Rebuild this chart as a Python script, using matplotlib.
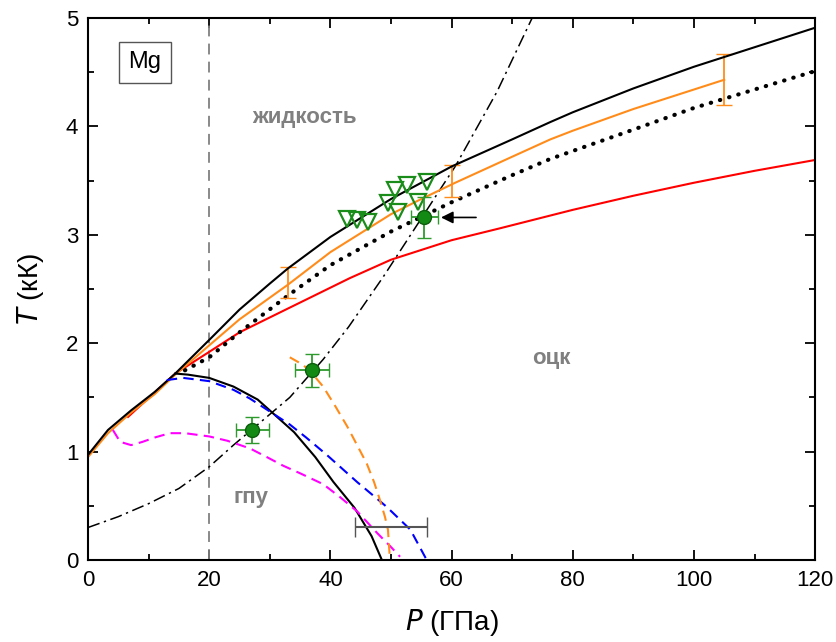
import numpy as np
import matplotlib
matplotlib.use("Agg")
from matplotlib import pyplot as plt

plt.rcParams['font.family'] = ['Liberation Sans', 'DejaVu Sans']

# линия плавления (верхняя, чёрная)
melt_p = [0, 3.3, 7.1, 11, 14.4, 20, 25, 30, 33, 40, 50, 60, 70, 76.3, 80, 90, 100, 105, 110, 120]
melt_t = [0.97, 1.20, 1.38, 1.55, 1.72, 2.03, 2.31, 2.55, 2.69, 2.98, 3.33, 3.63, 3.88, 4.04, 4.13, 4.35, 4.55, 4.64, 4.73, 4.91]

# оранжевая линия плавления
orange_p = [0, 3.3, 7.1, 11, 14.4, 20, 25, 33, 40, 50, 55, 60.6, 70, 76.3, 80, 90, 100, 105]
orange_t = [0.95, 1.17, 1.36, 1.53, 1.71, 1.98, 2.22, 2.54, 2.84, 3.19, 3.33, 3.48, 3.72, 3.88, 3.96, 4.16, 4.34, 4.43]
orange_err_p = [33, 60, 105]
orange_err_lo = [2.42, 3.35, 4.20]
orange_err_hi = [2.70, 3.64, 4.67]

# пунктир (точки)
dot_p = [16, 20, 25, 33, 40, 50, 60, 70, 76.3, 90, 100, 110, 120]
dot_t = [1.75, 1.87, 2.10, 2.44, 2.72, 3.03, 3.30, 3.55, 3.70, 3.97, 4.17, 4.34, 4.51]

# красная линия
red_p = [6.6, 14.4, 20, 25, 33, 43.2, 50, 60, 68, 80, 90, 100, 110, 120]
red_t = [1.32, 1.72, 1.92, 2.10, 2.32, 2.60, 2.77, 2.95, 3.06, 3.23, 3.36, 3.48, 3.59, 3.69]

# граница гпу-оцк
hb_p = [14.4, 16.5, 20, 24, 28, 31, 34, 37.5, 40.5, 44, 46.8, 48.5]
hb_t = [1.72, 1.71, 1.68, 1.60, 1.48, 1.33, 1.18, 0.95, 0.72, 0.48, 0.22, 0.0]

blue_p = [13, 15.7, 20, 24, 26.7, 30, 33.3, 36, 39.4, 44.4, 49.3, 53.2, 55.9]
blue_t = [1.66, 1.68, 1.65, 1.57, 1.49, 1.37, 1.25, 1.13, 0.97, 0.72, 0.49, 0.28, 0.0]

mag_p = [4.1, 5.3, 7.1, 9, 11, 13.5, 16, 20, 23, 26.7, 29.5, 32.2, 35, 38.8, 41.6, 44.4, 47.7, 50, 51.5]
mag_t = [1.20, 1.09, 1.06, 1.09, 1.13, 1.17, 1.17, 1.14, 1.10, 1.03, 0.95, 0.87, 0.80, 0.70, 0.58, 0.45, 0.25, 0.12, 0.03]

od_p = [33.3, 35.5, 37, 38.8, 40.8, 42.8, 44.5, 46, 47.2, 48.2, 49, 49.5, 49.8]
od_t = [1.87, 1.80, 1.72, 1.60, 1.42, 1.23, 1.05, 0.89, 0.72, 0.55, 0.40, 0.28, 0.03]

# ударная адиабата (штрих-пунктир)
hug_p = [0, 5, 10, 15, 20, 24, 29.5, 33.3, 38.8, 43, 48.7, 55, 58.6, 60.6, 67.5, 73.3]
hug_t = [0.30, 0.40, 0.52, 0.66, 0.86, 1.06, 1.32, 1.50, 1.85, 2.15, 2.61, 3.15, 3.46, 3.63, 4.32, 5.0]

# эксперимент
tri_p = [42.7, 44.4, 46.2, 49.5, 50.7, 52.7, 51.2, 54.5, 56.0]
tri_t = [3.15, 3.14, 3.12, 3.29, 3.41, 3.46, 3.21, 3.30, 3.49]

pt_p = [55.5, 37.0, 27.1]
pt_t = [3.16, 1.75, 1.20]
pt_xerr = [2.2, 2.8, 2.7]
pt_yerr = [0.19, 0.15, 0.12]

fig = plt.figure(figsize=(8.36, 6.42), dpi=100)
ax = fig.add_axes([0.1053, 0.1277, 0.8697, 0.8443])

ax.axvline(20, color="#808080", ls=(0, (6, 4)), lw=1.3)
ax.plot(hug_p, hug_t, color="black", ls=(0, (8, 3, 1.5, 3)), lw=1.1)
ax.plot(red_p, red_t, color="red", lw=1.5)
ax.plot(dot_p, dot_t, color="black", ls=(0, (0.1, 2.2)), lw=3, dash_capstyle="round")
ax.plot(orange_p, orange_t, color="#ff8c1a", lw=1.5)
ax.errorbar(orange_err_p, [(a + b) / 2 for a, b in zip(orange_err_lo, orange_err_hi)],
            yerr=[(b - a) / 2 for a, b in zip(orange_err_lo, orange_err_hi)],
            fmt="none", ecolor="#ff8c1a", capsize=6, elinewidth=1.3)
ax.plot(melt_p, melt_t, color="black", lw=1.5)
ax.plot(hb_p, hb_t, color="black", lw=1.5)
ax.plot(blue_p, blue_t, color="blue", ls=(0, (5, 3)), lw=1.5)
ax.plot(mag_p, mag_t, color="magenta", ls=(0, (5, 3)), lw=1.5)
ax.plot(od_p, od_t, color="#ff8c1a", ls=(0, (5, 3)), lw=1.5)

ax.errorbar([50], [0.30], xerr=[5.9], fmt="none", ecolor="#555555", capsize=7, elinewidth=1.5)

ax.plot(tri_p, tri_t, ls="none", marker="v", ms=11, mfc="none", mec="#1a8c1a", mew=1.6)
ax.errorbar(pt_p, pt_t, xerr=pt_xerr, yerr=pt_yerr, fmt="o", ms=10, color="#138a13",
            mec="#0b5e0b", ecolor="#2e9a2e", capsize=5, elinewidth=1.3)

ax.annotate("", xy=(57.8, 3.16), xytext=(64.5, 3.16),
            arrowprops=dict(arrowstyle="-|>", color="black", lw=1.2, mutation_scale=18))

ax.text(35.7, 4.08, "жидкость", color="#808080", fontsize=16, fontweight="bold", ha="center", va="center")
ax.text(76.4, 1.86, "оцк", color="#808080", fontsize=16, fontweight="bold", ha="center", va="center")
ax.text(26.9, 0.58, "гпу", color="#808080", fontsize=16, fontweight="bold", ha="center", va="center")
ax.text(9.4, 4.59, "Mg", color="black", fontsize=17, ha="center", va="center",
        bbox=dict(boxstyle="square,pad=0.4", fc="white", ec="#555555", lw=1))

ax.set_xlim(0, 120)
ax.set_ylim(0, 5)
ax.set_xticks(np.arange(0, 121, 20))
ax.set_xticks(np.arange(0, 121, 10), minor=True)
ax.set_yticks(np.arange(0, 6, 1))
ax.set_yticks(np.arange(0, 5.01, 0.5), minor=True)
ax.tick_params(which="both", direction="in", top=True, right=True, labelsize=16, width=1.3)
ax.tick_params(which="major", length=7, pad=7)
ax.tick_params(which="minor", length=4)
for s in ax.spines.values():
    s.set_linewidth(1.5)

ax.set_xlabel("$\\mathit{P}$ (ГПа)", fontsize=20, labelpad=12)
ax.set_ylabel("$\\mathit{T}$ (кК)", fontsize=20, labelpad=14)

plt.savefig("out.png", dpi=100)
